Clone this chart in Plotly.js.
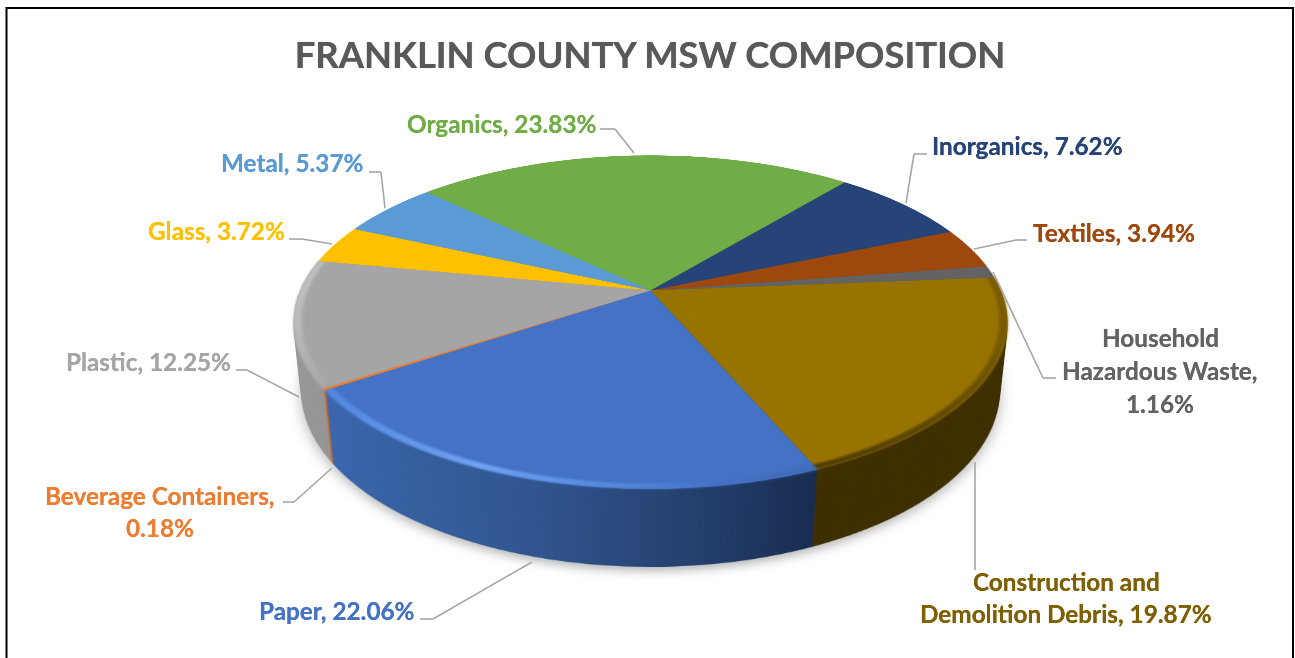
<!DOCTYPE html>
<html>
<head>
<meta charset="utf-8">
<script src="https://cdn.plot.ly/plotly-3.0.1.min.js"></script>
<style>
html,body{margin:0;padding:0;background:#fff;width:1295px;height:658px;overflow:hidden}
.disc{position:absolute;left:299.5px;top:-60.5px;width:701px;height:701px;transform-origin:50% 50%}
#overlay{position:absolute;left:0;top:0;width:1295px;height:658px}
</style>
</head>
<body>
<div id="stage"></div>
<script>
const categories = ["Organics","Inorganics","Textiles","Household Hazardous Waste","Construction and Demolition Debris","Paper","Beverage Containers","Plastic","Glass","Metal"];
const values = [23.83,7.62,3.94,1.16,19.87,22.06,0.18,12.25,3.72,5.37];
const topColors = ["#70ad47","#264478","#9e480e","#636363","#997300","#4472c4","#ed7d31","#a5a5a5","#ffc000","#5b9bd5"];
const wallColors = ["#4a7530","#182c50","#6a3009","#444444","#3f2f00","#2f4e8c","#d06a25","#8e8e8e","#aa8000","#3d6a92"];
const labelColors = ["#70ad47","#264478","#9e480e","#636363","#7f6000","#4472c4","#ed7d31","#a5a5a5","#ffc000","#5b9bd5"];
const labelLines = [
  ["Organics, 23.83%"],["Inorganics, 7.62%"],["Textiles, 3.94%"],
  ["Household","Hazardous Waste,","1.16%"],
  ["Construction and","Demolition Debris, 19.87%"],
  ["Paper, 22.06%"],["Beverage Containers,","0.18%"],["Plastic, 12.25%"],["Glass, 3.72%"],["Metal, 5.37%"]];
const labelX = [501,1027,1114,1160,1066,337,160,148,216,292];
const labelY = [123,145,232,337,581,610,495,361,230,162];
const leaders = [
  [[600,129],[615,129],[634,153]],
  [[927,154],[914,154],[906,203]],
  [[1027,240],[1016,240],[974,249]],
  [[993,272],[1043,378],[1056,378]],
  [[975,462],[975,570]],
  [[532,562],[433,619],[420,619]],
  [[332,468],[294,502],[283,502]],
  [[299,397],[247,370],[236,370]],
  [[332,244],[302,239],[289,239]],
  [[385,208],[381,172],[369,172]]];
const titleText = "FRANKLIN COUNTY MSW COMPOSITION";

const rotationDeg = -46.3, wallDepth = 78, wallStep = 2;
const view = "perspective(1646px) rotateX(62.7deg) ";
const stage = document.getElementById("stage");
const discLayout = {width:701,height:701,margin:{l:0,r:0,t:0,b:0},showlegend:false,
  paper_bgcolor:"rgba(0,0,0,0)",plot_bgcolor:"rgba(0,0,0,0)"};
const cfg = {staticPlot:true,displayModeBar:false};
function makeDisc(depth, extra){
  const d = document.createElement("div");
  d.className = "disc";
  d.style.transform = view + "translateZ(" + (-depth) + "px)";
  if(extra) d.style.filter = extra;
  stage.appendChild(d);
  return d;
}
function pieTrace(colors, hole){
  return {type:"pie",labels:categories,values:values,sort:false,direction:"clockwise",rotation:rotationDeg,
    hole:hole||0,textinfo:"none",hoverinfo:"skip",marker:{colors:colors,line:{width:0}}};
}
function gradient(svg,id,stops){
  const ns="http://www.w3.org/2000/svg";
  let defs=svg.querySelector("defs");
  if(!defs){defs=document.createElementNS(ns,"defs");svg.insertBefore(defs,svg.firstChild);}
  const g=document.createElementNS(ns,"linearGradient");
  g.setAttribute("id",id);
  stops.forEach(s=>{const e=document.createElementNS(ns,"stop");
    e.setAttribute("offset",s[0]);e.setAttribute("stop-color",s[1]);g.appendChild(e);});
  defs.appendChild(g);
}
function paint(div,map){
  const svg=div.querySelector("svg.main-svg");
  const paths=div.querySelectorAll("path.surface");
  Object.keys(map).forEach(k=>{
    const i=categories.indexOf(k), id=div.id+"g"+i;
    gradient(svg,id,map[k]);
    if(paths[i]) paths[i].style.fill="url(#"+id+")";
  });
}

// soft ground shadow
const shadow = makeDisc(wallDepth+4,"blur(7px)");
Plotly.newPlot(shadow,[pieTrace(categories.map(()=> "rgba(0,0,0,0.3)"))],discLayout,cfg);

// side wall: stacked copies of the same pie
const wall = makeDisc(wallDepth);
wall.id = "wallBase";
Plotly.newPlot(wall,[pieTrace(wallColors)],discLayout,cfg).then(()=>{
  paint(wall,{
    "Paper":[[0,"#3a66ad"],[0.45,"#31558f"],[0.75,"#25406f"],[1,"#182c50"]],
    "Plastic":[[0,"#989898"],[1,"#858585"]]
  });
  const top = document.getElementById("topDisc");
  for(let z=wallDepth-wallStep;z>0;z-=wallStep){
    const c = wall.cloneNode(true);
    c.removeAttribute("id");
    c.style.transform = view + "translateZ(" + (-z) + "px)";
    stage.insertBefore(c,top);
  }
});

// top face
const topDisc = makeDisc(0);
topDisc.id = "topDisc";
Plotly.newPlot(topDisc,[pieTrace(topColors)],discLayout,cfg);

// bevel rim along the visible front edge
const rim = makeDisc(0,"blur(1.8px)");
rim.id = "rim";
const rimBase = ["rgba(0,0,0,0)","rgba(0,0,0,0)","rgba(0,0,0,0)","rgba(0,0,0,0)","#806000","#4472c4","#ed7d31","#b4b4b4","rgba(0,0,0,0)","rgba(0,0,0,0)"];
Plotly.newPlot(rim,[pieTrace(rimBase,0.978)],discLayout,cfg).then(()=>{
  paint(rim,{
    "Paper":[[0,"#4f86de"],[0.35,"#70a2f2"],[0.6,"#5288dc"],[0.8,"#4472c4"],[1,"#3f6ab6"]],
    "Construction and Demolition Debris":[[0,"#4f3b00"],[0.5,"#5e4700"],[1,"#7a5c00"]],
    "Plastic":[[0,"#c0c0c0"],[0.5,"#b0b0b0"],[1,"#a5a5a5"]]
  });
});

// title, labels and leader lines
const overlay = document.createElement("div");
overlay.id = "overlay";
document.body.appendChild(overlay);
const shapes = [{type:"rect",xref:"x",yref:"y",x0:6.5,y0:8,x1:1293,y1:700,line:{color:"#000",width:2},fillcolor:"rgba(0,0,0,0)"}];
leaders.forEach(pts=>{
  for(let i=0;i<pts.length-1;i++){
    shapes.push({type:"line",xref:"x",yref:"y",x0:pts[i][0],y0:pts[i][1],x1:pts[i+1][0],y1:pts[i+1][1],
      line:{color:"#a6a6a6",width:1.6}});
  }
});
const annotations = [];
labelLines.forEach((lines,i)=>{
  lines.forEach((t,j)=>{
    annotations.push({xref:"x",yref:"y",x:labelX[i],y:labelY[i]+j*(lines.length===3?33:32),text:"<b>"+t+"</b>",showarrow:false,
      xanchor:"center",yanchor:"middle",font:{family:"Lato, 'Open Sans', sans-serif",size:24.3,color:labelColors[i],shadow:"0 0 0.5px "+labelColors[i]}});
  });
});
Plotly.newPlot(overlay,[],{
  width:1295,height:658,margin:{l:0,r:0,t:0,b:0},showlegend:false,
  paper_bgcolor:"rgba(0,0,0,0)",plot_bgcolor:"rgba(0,0,0,0)",
  xaxis:{range:[0,1295],visible:false,fixedrange:true},
  yaxis:{range:[658,0],visible:false,fixedrange:true},
  title:{text:"<b>"+titleText+"</b>",x:650/1295,xanchor:"center",y:1-55/658,yanchor:"middle",
    font:{family:"Lato, 'Open Sans', sans-serif",size:36.4,color:"#595959",shadow:"0 0 0.7px #595959"}},
  shapes:shapes,annotations:annotations
},cfg);
</script>
</body>
</html>
